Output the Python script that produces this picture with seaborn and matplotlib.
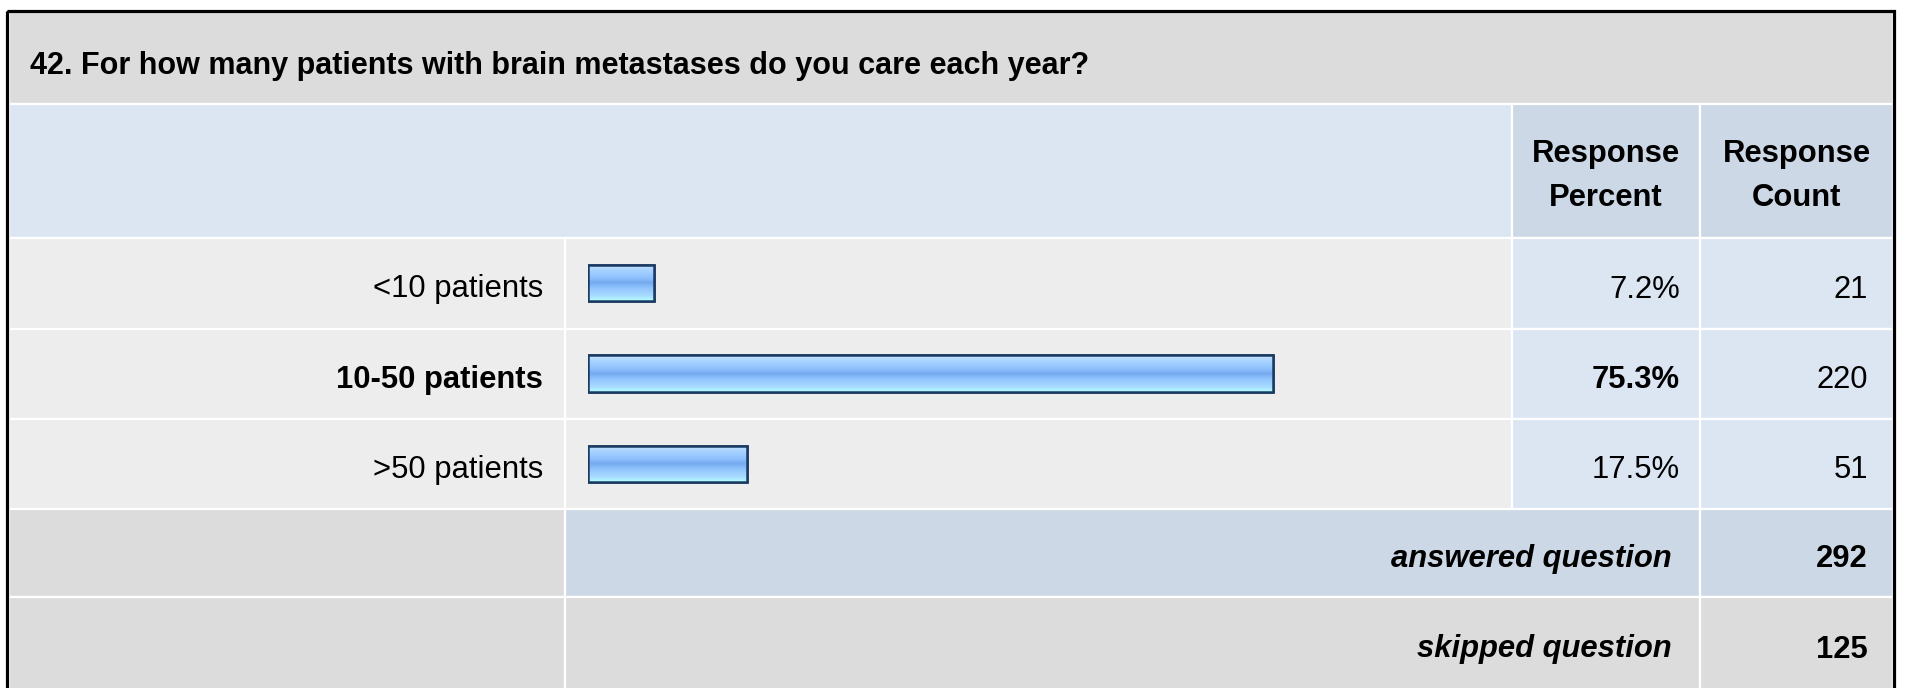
import numpy as np
import pandas as pd
import matplotlib
matplotlib.use("Agg")
import matplotlib.pyplot as plt
from matplotlib.patches import Rectangle
from matplotlib.colors import LinearSegmentedColormap
import seaborn as sns

# dados da pergunta
titulo = "42. For how many patients with brain metastases do you care each year?"
categorias = ["<10 patients", "10-50 patients", ">50 patients"]
percentuais = [7.2, 75.3, 17.5]
contagens = [21, 220, 51]
respondidas = 292
puladas = 125

sns.set_theme(style="white")
plt.rcParams['font.family'] = ['Liberation Sans', 'DejaVu Sans']
plt.rcParams['text.color'] = 'black'

W, H = 1907, 688
fig = plt.figure(figsize=(W / 100, H / 100), dpi=100)
bg = fig.add_axes([0, 0, 1, 1])
bg.set_xlim(0, W)
bg.set_ylim(H, 0)
bg.axis('off')

CINZA = "#DCDCDC"
CINZA_CLARO = "#EDEDED"
AZUL_CLARO = "#DCE6F3"
AZUL = "#CCD8E6"

# colunas e linhas da tabela (pixels)
x0, x1, x2, x3, x4 = 9, 565, 1512, 1700, 1893
linhas = [12, 104, 238, 329, 419, 509, 597, H + 2]


def celula(xa, xb, ya, yb, cor):
    bg.add_patch(Rectangle((xa, ya), xb - xa, yb - ya, facecolor=cor,
                           edgecolor="white", linewidth=1.6, zorder=1))


def base(i):
    # linha de base do texto de uma linha da tabela
    return (linhas[i] + linhas[i + 1]) / 2 + 14


celula(x0, x4, linhas[0], linhas[1], CINZA)
celula(x0, x2, linhas[1], linhas[2], AZUL_CLARO)
celula(x2, x3, linhas[1], linhas[2], AZUL)
celula(x3, x4, linhas[1], linhas[2], AZUL)
for i in range(3):
    ya, yb = linhas[2 + i], linhas[3 + i]
    celula(x0, x1, ya, yb, CINZA_CLARO)
    celula(x1, x2, ya, yb, CINZA_CLARO)
    celula(x2, x3, ya, yb, AZUL_CLARO)
    celula(x3, x4, ya, yb, AZUL_CLARO)
celula(x0, x1, linhas[5], linhas[6], CINZA)
celula(x1, x3, linhas[5], linhas[6], AZUL)
celula(x3, x4, linhas[5], linhas[6], AZUL)
celula(x0, x1, linhas[6], linhas[7], CINZA)
celula(x1, x3, linhas[6], linhas[7], CINZA)
celula(x3, x4, linhas[6], linhas[7], CINZA)

# moldura preta
bg.add_patch(Rectangle((7, 11), 1887, H, facecolor="none", edgecolor="black",
                       linewidth=2.3, zorder=5))

FS = 22.3
bg.text(30, base(0) + 2, titulo, fontsize=22.0, fontweight='bold', ha='left', va='baseline')
for xc in [(x2 + x3) / 2, (x3 + x4) / 2]:
    rot = "Percent" if xc < x3 else "Count"
    bg.text(xc, 162, "Response", fontsize=FS, fontweight='bold', ha='center', va='baseline')
    bg.text(xc, 206, rot, fontsize=FS, fontweight='bold', ha='center', va='baseline')

maior = int(np.argmax(percentuais))
for i, (cat, p, c) in enumerate(zip(categorias, percentuais, contagens)):
    yb = base(2 + i)
    peso = 'bold' if i == maior else 'normal'
    bg.text(543, yb, cat, fontsize=FS, fontweight=peso, ha='right', va='baseline')
    bg.text(1680, yb, f"{p:.1f}%", fontsize=FS, fontweight=peso, ha='right', va='baseline')
    bg.text(1868, yb, str(c), fontsize=FS, ha='right', va='baseline')

bg.text(1672, base(5), "answered question", fontsize=FS, fontweight='bold', style='italic',
        ha='right', va='baseline')
bg.text(1868, base(5), str(respondidas), fontsize=FS, fontweight='bold', ha='right', va='baseline')
bg.text(1672, base(6), "skipped question", fontsize=FS, fontweight='bold', style='italic',
        ha='right', va='baseline')
bg.text(1868, base(6), str(puladas), fontsize=FS, fontweight='bold', ha='right', va='baseline')

# eixo das barras: 0-100% sobre a coluna do meio
bx0, bx1 = 588, 1498
ax = fig.add_axes([bx0 / W, 1 - linhas[5] / H, (bx1 - bx0) / W, (linhas[5] - linhas[2]) / H])
ax.patch.set_alpha(0)
df = pd.DataFrame({'categoria': categorias, 'percentual': percentuais})
sns.barplot(data=df, x='percentual', y='categoria', orient='h', width=0.4,
            color="#9CCBFF", edgecolor="#1B3A63", linewidth=1.8, ax=ax, zorder=3)
ax.set_xlim(0, 100)
ax.set_ylim(2.5, -0.5)
ax.axis('off')

cores_grad = ["#CFE6FF", "#ADD6FF", "#9CCBFF", "#8EC0FB", "#74A9EF",
              "#8CC0FB", "#9DD0FF", "#A8DDFF", "#B4FFFF"]
cmap = LinearSegmentedColormap.from_list("barra", cores_grad)
grad = np.linspace(0, 1, 64).reshape(-1, 1)
for patch in list(ax.patches):
    bx, by = patch.get_x(), patch.get_y()
    bw, bh = patch.get_width(), patch.get_height()
    img = ax.imshow(grad, cmap=cmap, aspect='auto', extent=[bx, bx + bw, by + bh, by],
                    zorder=3.5, interpolation='bilinear')
    img.set_clip_path(patch)
    contorno = Rectangle((bx, by), bw, bh, facecolor="none", edgecolor="#1B3A63",
                         linewidth=1.8, zorder=4)
    ax.add_patch(contorno)
ax.set_xlim(0, 100)
ax.set_ylim(2.5, -0.5)

fig.savefig("out.png", dpi=100)
